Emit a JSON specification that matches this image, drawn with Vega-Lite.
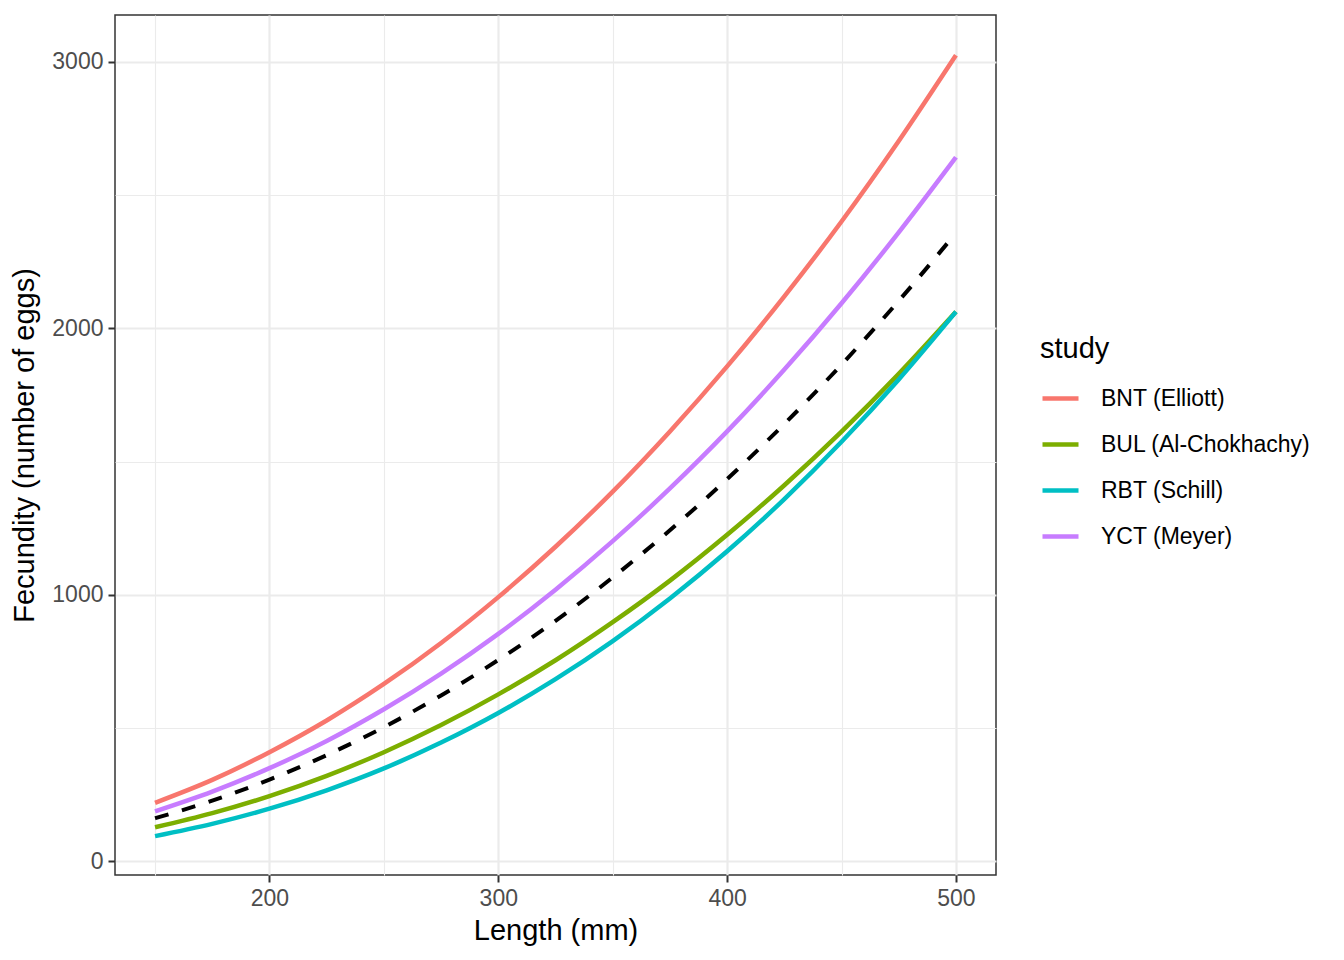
{
  "$schema": "https://vega.github.io/schema/vega-lite/v6.json",
  "width": 881,
  "height": 860,
  "autosize": "none",
  "padding": {"left": 115, "top": 15, "right": 348, "bottom": 85},
  "background": "white",
  "data": {
    "values": [
      {"study": "BNT (Elliott)", "length": 150, "fecundity": 219},
      {"study": "BNT (Elliott)", "length": 175, "fecundity": 305},
      {"study": "BNT (Elliott)", "length": 200, "fecundity": 409},
      {"study": "BNT (Elliott)", "length": 225, "fecundity": 528},
      {"study": "BNT (Elliott)", "length": 250, "fecundity": 665},
      {"study": "BNT (Elliott)", "length": 275, "fecundity": 819},
      {"study": "BNT (Elliott)", "length": 300, "fecundity": 991},
      {"study": "BNT (Elliott)", "length": 325, "fecundity": 1180},
      {"study": "BNT (Elliott)", "length": 350, "fecundity": 1387},
      {"study": "BNT (Elliott)", "length": 375, "fecundity": 1613},
      {"study": "BNT (Elliott)", "length": 400, "fecundity": 1857},
      {"study": "BNT (Elliott)", "length": 425, "fecundity": 2120},
      {"study": "BNT (Elliott)", "length": 450, "fecundity": 2401},
      {"study": "BNT (Elliott)", "length": 475, "fecundity": 2703},
      {"study": "BNT (Elliott)", "length": 500, "fecundity": 3025},
      {"study": "BUL (Al-Chokhachy)", "length": 150, "fecundity": 127},
      {"study": "BUL (Al-Chokhachy)", "length": 175, "fecundity": 180},
      {"study": "BUL (Al-Chokhachy)", "length": 200, "fecundity": 244},
      {"study": "BUL (Al-Chokhachy)", "length": 225, "fecundity": 320},
      {"study": "BUL (Al-Chokhachy)", "length": 250, "fecundity": 409},
      {"study": "BUL (Al-Chokhachy)", "length": 275, "fecundity": 511},
      {"study": "BUL (Al-Chokhachy)", "length": 300, "fecundity": 626},
      {"study": "BUL (Al-Chokhachy)", "length": 325, "fecundity": 754},
      {"study": "BUL (Al-Chokhachy)", "length": 350, "fecundity": 897},
      {"study": "BUL (Al-Chokhachy)", "length": 375, "fecundity": 1053},
      {"study": "BUL (Al-Chokhachy)", "length": 400, "fecundity": 1225},
      {"study": "BUL (Al-Chokhachy)", "length": 425, "fecundity": 1411},
      {"study": "BUL (Al-Chokhachy)", "length": 450, "fecundity": 1612},
      {"study": "BUL (Al-Chokhachy)", "length": 475, "fecundity": 1829},
      {"study": "BUL (Al-Chokhachy)", "length": 500, "fecundity": 2062},
      {"study": "RBT (Schill)", "length": 150, "fecundity": 94},
      {"study": "RBT (Schill)", "length": 175, "fecundity": 140},
      {"study": "RBT (Schill)", "length": 200, "fecundity": 197},
      {"study": "RBT (Schill)", "length": 225, "fecundity": 266},
      {"study": "RBT (Schill)", "length": 250, "fecundity": 348},
      {"study": "RBT (Schill)", "length": 275, "fecundity": 445},
      {"study": "RBT (Schill)", "length": 300, "fecundity": 556},
      {"study": "RBT (Schill)", "length": 325, "fecundity": 683},
      {"study": "RBT (Schill)", "length": 350, "fecundity": 826},
      {"study": "RBT (Schill)", "length": 375, "fecundity": 986},
      {"study": "RBT (Schill)", "length": 400, "fecundity": 1163},
      {"study": "RBT (Schill)", "length": 425, "fecundity": 1359},
      {"study": "RBT (Schill)", "length": 450, "fecundity": 1574},
      {"study": "RBT (Schill)", "length": 475, "fecundity": 1808},
      {"study": "RBT (Schill)", "length": 500, "fecundity": 2062},
      {"study": "YCT (Meyer)", "length": 150, "fecundity": 187},
      {"study": "YCT (Meyer)", "length": 175, "fecundity": 261},
      {"study": "YCT (Meyer)", "length": 200, "fecundity": 349},
      {"study": "YCT (Meyer)", "length": 225, "fecundity": 451},
      {"study": "YCT (Meyer)", "length": 250, "fecundity": 570},
      {"study": "YCT (Meyer)", "length": 275, "fecundity": 704},
      {"study": "YCT (Meyer)", "length": 300, "fecundity": 853},
      {"study": "YCT (Meyer)", "length": 325, "fecundity": 1019},
      {"study": "YCT (Meyer)", "length": 350, "fecundity": 1201},
      {"study": "YCT (Meyer)", "length": 375, "fecundity": 1399},
      {"study": "YCT (Meyer)", "length": 400, "fecundity": 1613},
      {"study": "YCT (Meyer)", "length": 425, "fecundity": 1845},
      {"study": "YCT (Meyer)", "length": 450, "fecundity": 2094},
      {"study": "YCT (Meyer)", "length": 475, "fecundity": 2360},
      {"study": "YCT (Meyer)", "length": 500, "fecundity": 2642},
      {"study": "Overall", "length": 150, "fecundity": 161},
      {"study": "Overall", "length": 175, "fecundity": 227},
      {"study": "Overall", "length": 200, "fecundity": 306},
      {"study": "Overall", "length": 225, "fecundity": 398},
      {"study": "Overall", "length": 250, "fecundity": 503},
      {"study": "Overall", "length": 275, "fecundity": 622},
      {"study": "Overall", "length": 300, "fecundity": 755},
      {"study": "Overall", "length": 325, "fecundity": 902},
      {"study": "Overall", "length": 350, "fecundity": 1065},
      {"study": "Overall", "length": 375, "fecundity": 1242},
      {"study": "Overall", "length": 400, "fecundity": 1434},
      {"study": "Overall", "length": 425, "fecundity": 1641},
      {"study": "Overall", "length": 450, "fecundity": 1864},
      {"study": "Overall", "length": 475, "fecundity": 2103},
      {"study": "Overall", "length": 500, "fecundity": 2358}
    ]
  },
  "encoding": {
    "x": {
      "field": "length",
      "type": "quantitative",
      "title": "Length (mm)",
      "scale": {"domain": [132.5, 517.5], "nice": false, "zero": false},
      "axis": {
        "values": [150, 200, 250, 300, 350, 400, 450, 500],
        "labelExpr": "datum.value % 100 === 0 ? datum.label : ''",
        "gridWidth": {"condition": {"test": "datum.value % 100 === 0", "value": 2.2}, "value": 1.1},
        "tickOpacity": {"condition": {"test": "datum.value % 100 === 0", "value": 1}, "value": 0},
        "titlePadding": 6
      }
    },
    "y": {
      "field": "fecundity",
      "type": "quantitative",
      "title": "Fecundity (number of eggs)",
      "scale": {"domain": [-52, 3176], "nice": false, "zero": false},
      "axis": {
        "values": [0, 500, 1000, 1500, 2000, 2500, 3000],
        "labelExpr": "datum.value % 1000 === 0 ? datum.label : ''",
        "gridWidth": {"condition": {"test": "datum.value % 1000 === 0", "value": 2.2}, "value": 1.1},
        "tickOpacity": {"condition": {"test": "datum.value % 1000 === 0", "value": 1}, "value": 0},
        "format": "d",
        "titlePadding": 12
      }
    }
  },
  "layer": [
    {
      "transform": [{"filter": "datum.study !== 'Overall'"}],
      "mark": {"type": "line", "strokeWidth": 4.5, "interpolate": "monotone"},
      "encoding": {
        "color": {
          "field": "study",
          "type": "nominal",
          "title": "study",
          "scale": {
            "domain": ["BNT (Elliott)", "BUL (Al-Chokhachy)", "RBT (Schill)", "YCT (Meyer)"],
            "range": ["#F8766D", "#7CAE00", "#00BFC4", "#C77CFF"]
          },
          "legend": {
            "orient": "none",
            "legendX": 925,
            "legendY": 320,
            "symbolType": "stroke",
            "symbolSize": 1296,
            "symbolStrokeWidth": 4.5,
            "labelOffset": 20,
            "labelLimit": 400,
            "rowPadding": 13,
            "titlePadding": 14
          }
        }
      }
    },
    {
      "transform": [{"filter": "datum.study === 'Overall'"}],
      "mark": {"type": "line", "strokeWidth": 4, "interpolate": "monotone", "color": "black", "strokeDash": [14, 14]}
    }
  ],
  "config": {
    "font": "Liberation Sans",
    "view": {"stroke": "#333333", "strokeWidth": 1.5},
    "axis": {
      "domain": false,
      "gridColor": "#EBEBEB",
      "tickColor": "#333333",
      "tickSize": 7,
      "tickWidth": 2,
      "labelColor": "#4D4D4D",
      "labelFontSize": 23,
      "labelPadding": 5,
      "titleFontSize": 29,
      "titleFontWeight": "normal",
      "titleColor": "black"
    },
    "legend": {
      "titleFontSize": 29,
      "titleFontWeight": "normal",
      "titleColor": "black",
      "labelFontSize": 23,
      "labelColor": "black"
    }
  }
}
